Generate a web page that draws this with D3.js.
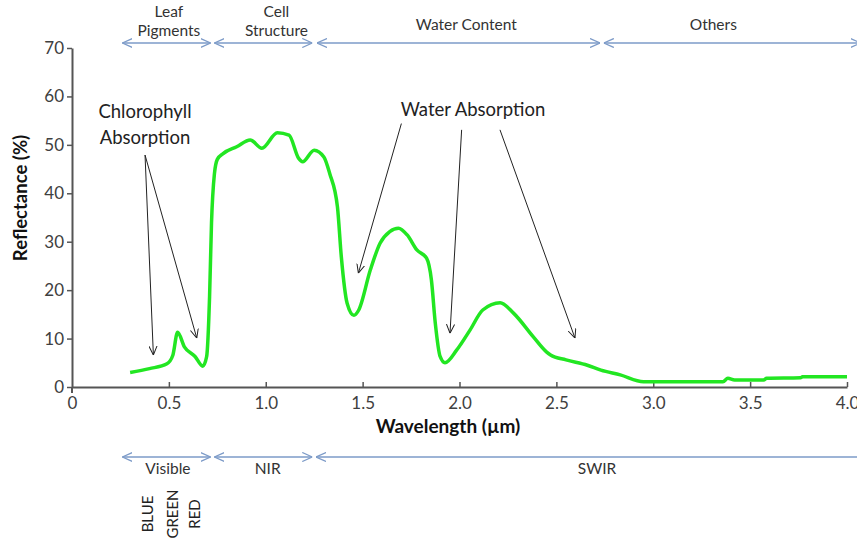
<!DOCTYPE html>
<html>
<head>
<meta charset="utf-8">
<script src="https://cdn.jsdelivr.net/npm/d3@7"></script>
<style>
  body { margin: 0; background: #fff; }
  svg text { font-family: Lato, "Open Sans", sans-serif; }
</style>
</head>
<body>
<svg id="chart" width="857" height="538"></svg>
<script>
// spectral curve
var wavelength = [0.30, 0.40, 0.49, 0.52, 0.545, 0.58, 0.635, 0.675, 0.695, 0.71, 0.72, 0.735, 0.75, 0.78, 0.85, 0.92, 0.98, 1.06, 1.12, 1.17, 1.19, 1.25, 1.30, 1.33, 1.37, 1.39, 1.42, 1.455, 1.48, 1.54, 1.59, 1.64, 1.685, 1.73, 1.78, 1.83, 1.855, 1.875, 1.90, 1.925, 1.985, 2.055, 2.12, 2.21, 2.28, 2.38, 2.45, 2.47, 2.55, 2.66, 2.73, 2.83, 2.95, 3.36, 3.385, 3.42, 3.57, 3.585, 3.76, 3.77, 4.00];
var reflectance = [3.0, 3.8, 4.8, 6.5, 11.3, 8.3, 6.3, 4.3, 6.3, 18.6, 33.8, 44.0, 47.0, 48.2, 49.6, 51.0, 49.3, 52.5, 52.0, 47.2, 46.5, 48.9, 47.5, 44.1, 37.2, 26.9, 17.3, 14.8, 15.9, 24.2, 29.7, 32.1, 32.8, 31.4, 28.3, 26.6, 22.1, 13.2, 6.3, 5.0, 7.6, 11.8, 15.9, 17.4, 15.2, 10.4, 7.2, 6.6, 5.6, 4.5, 3.5, 2.5, 1.1, 1.1, 1.8, 1.45, 1.45, 1.8, 1.9, 2.1, 2.1];

var xTicks = [0, 0.5, 1.0, 1.5, 2.0, 2.5, 3.0, 3.5, 4.0];
var xTickLabels = ["0", "0.5", "1.0", "1.5", "2.0", "2.5", "3.0", "3.5", "4.0"];
var yTicks = [0, 10, 20, 30, 40, 50, 60, 70];

// region bands (µm)
var topBands = ["Leaf|Pigments", "Cell|Structure", "Water Content", "Others"];
var topFrom = [0.26, 0.735, 1.265, 2.745];
var topTo = [0.715, 1.24, 2.725, 4.07];
var topLabelAt = [0.5, 1.055, 2.035, 3.31];
var bottomBands = ["Visible", "NIR", "SWIR"];
var bottomFrom = [0.26, 0.735, 1.26];
var bottomTo = [0.715, 1.24, 4.2];
var bottomLabelAt = [0.495, 1.01, 2.71];
var colourBands = ["BLUE", "GREEN", "RED"];
var colourAt = [0.39, 0.52, 0.635];

// annotation arrows: start and tip, in data units
var chloroFrom = [[0.377, 47.9], [0.377, 47.9]];
var chloroTo = [[0.42, 6.6], [0.644, 10.1]];
var waterFrom = [[1.70, 54.4], [2.011, 53.1], [2.209, 53.1]];
var waterTo = [[1.478, 23.5], [1.951, 11.1], [2.596, 10.1]];

var svg = d3.select("#chart");

var x = d3.scaleLinear().domain([0, 4]).range([72, 847]);
var y = d3.scaleLinear().domain([0, 70]).range([387, 48]);

var defs = svg.append("defs");
defs.append("marker")
    .attr("id", "chev")
    .attr("viewBox", "0 0 10 10")
    .attr("refX", 10).attr("refY", 5)
    .attr("markerWidth", 10).attr("markerHeight", 10)
    .attr("markerUnits", "userSpaceOnUse")
    .attr("orient", "auto-start-reverse")
  .append("path")
    .attr("d", "M0,0.5 L10,5 L0,9.5")
    .attr("fill", "none")
    .attr("stroke", "#7d9bc8")
    .attr("stroke-width", 1.3);
defs.append("marker")
    .attr("id", "blk")
    .attr("viewBox", "0 0 10 10")
    .attr("refX", 10).attr("refY", 5)
    .attr("markerWidth", 9).attr("markerHeight", 9)
    .attr("markerUnits", "userSpaceOnUse")
    .attr("orient", "auto")
  .append("path")
    .attr("d", "M0,0.5 L10,5 L0,9.5")
    .attr("fill", "none")
    .attr("stroke", "#222")
    .attr("stroke-width", 1.1);

// axes
var yAxis = svg.append("g")
    .attr("transform", "translate(72,0)")
    .call(d3.axisLeft(y).tickValues(yTicks).tickSize(5).tickSizeOuter(0).tickPadding(3));
var xAxis = svg.append("g")
    .attr("transform", "translate(0,387)")
    .call(d3.axisBottom(x).tickValues(xTicks).tickFormat((d, i) => xTickLabels[i]).tickSize(-5).tickSizeOuter(0).tickPadding(10));

[xAxis, yAxis].forEach(function (g) {
  g.selectAll(".domain").attr("stroke", "#555").attr("stroke-width", 2);
  g.selectAll(".tick line").attr("stroke", "#555").attr("stroke-width", 1.5);
  g.selectAll(".tick text").attr("fill", "#404040").style("font-size", "17px");
});
xAxis.select(".tick line").remove();
// y axis runs slightly below the x axis
svg.append("line")
    .attr("x1", 72).attr("x2", 72).attr("y1", y(0)).attr("y2", y(0) + 6)
    .attr("stroke", "#555").attr("stroke-width", 2);

svg.append("text")
    .attr("transform", "translate(27,198) rotate(-90)")
    .attr("text-anchor", "middle")
    .style("font-size", "18.5px").style("font-weight", "bold")
    .attr("fill", "#111")
    .text("Reflectance (%)");
svg.append("text")
    .attr("x", 448).attr("y", 433)
    .attr("text-anchor", "middle")
    .style("font-size", "19px").style("font-weight", "bold")
    .attr("fill", "#111")
    .text("Wavelength (µm)");

// curve
var line = d3.line()
    .x((d, i) => x(wavelength[i]))
    .y(d => y(d))
    .curve(d3.curveMonotoneX);
svg.append("path")
    .datum(reflectance)
    .attr("d", line)
    .attr("fill", "none")
    .attr("stroke", "#22e622")
    .attr("stroke-width", 3.5)
    .attr("stroke-linejoin", "round");

// band arrows on top
var topY = 43;
topBands.forEach(function (name, i) {
  svg.append("line")
      .attr("x1", x(topFrom[i])).attr("x2", x(topTo[i]))
      .attr("y1", topY).attr("y2", topY)
      .attr("stroke", "#7d9bc8").attr("stroke-width", 1.3)
      .attr("marker-start", "url(#chev)").attr("marker-end", "url(#chev)");
  var parts = name.split("|");
  parts.forEach(function (p, j) {
    svg.append("text")
        .attr("x", x(topLabelAt[i]))
        .attr("y", parts.length === 2 ? 17 + j * 19 : 30)
        .attr("text-anchor", "middle")
        .style("font-size", "15.5px")
        .attr("fill", "#333")
        .text(p);
  });
});

// band arrows below
var botY = 457;
bottomBands.forEach(function (name, i) {
  svg.append("line")
      .attr("x1", x(bottomFrom[i])).attr("x2", x(bottomTo[i]))
      .attr("y1", botY).attr("y2", botY)
      .attr("stroke", "#7d9bc8").attr("stroke-width", 1.3)
      .attr("marker-start", "url(#chev)").attr("marker-end", "url(#chev)");
  svg.append("text")
      .attr("x", x(bottomLabelAt[i])).attr("y", 474)
      .attr("text-anchor", "middle")
      .style("font-size", "15.5px")
      .attr("fill", "#333")
      .text(name);
});

colourBands.forEach(function (name, i) {
  svg.append("text")
      .attr("transform", "translate(" + (x(colourAt[i]) + 5) + ",514) rotate(-90)")
      .attr("text-anchor", "middle")
      .style("font-size", "15px")
      .attr("fill", "#222")
      .text(name);
});

// annotations
svg.append("text").attr("x", 145).attr("y", 118).attr("text-anchor", "middle")
    .style("font-size", "18.5px").attr("fill", "#222").text("Chlorophyll");
svg.append("text").attr("x", 145).attr("y", 144).attr("text-anchor", "middle")
    .style("font-size", "18.5px").attr("fill", "#222").text("Absorption");
svg.append("text").attr("x", 473).attr("y", 116).attr("text-anchor", "middle")
    .style("font-size", "18.5px").attr("fill", "#222").text("Water Absorption");

chloroFrom.concat(waterFrom).forEach(function (s, i) {
  var t = chloroTo.concat(waterTo)[i];
  svg.append("line")
      .attr("x1", x(s[0])).attr("y1", y(s[1]))
      .attr("x2", x(t[0])).attr("y2", y(t[1]))
      .attr("stroke", "#222").attr("stroke-width", 1)
      .attr("marker-end", "url(#blk)");
});
</script>
</body>
</html>
